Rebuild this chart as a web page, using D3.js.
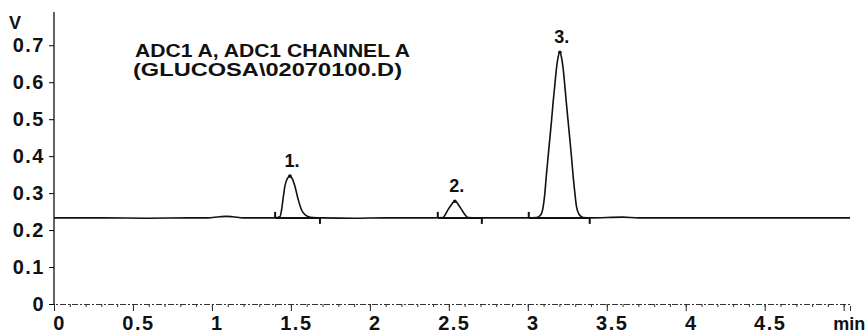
<!doctype html>
<html>

<head>
    <style>
        body {
            margin: 0;
            background: #fff;
        }

        text {
            font-family: "Liberation Sans", Arial, sans-serif;
            fill: #111;
        }

        .axis text {
            font-size: 20px;
            font-weight: bold;
            letter-spacing: 1.5px;
        }

        .trace {
            fill: none;
            stroke: #111;
            stroke-width: 1.6px;
        }

        .integ {
            stroke: #111;
            stroke-width: 2px;
        }
    </style>
    <script src="https://d3js.org/d3.v7.min.js"></script>
</head>

<body>
    <script>
        // chromatogram trace: [time (min), signal (V)]
        const trace = [
            [0, 0.233], [0.3, 0.233], [0.6, 0.232], [0.85, 0.233], [0.97, 0.233],
            [1.05, 0.236], [1.09, 0.237], [1.13, 0.236], [1.2, 0.233], [1.3, 0.233],
            [1.40, 0.233], [1.43, 0.236], [1.441, 0.255], [1.452, 0.29], [1.462, 0.319],
            [1.478, 0.340], [1.494, 0.346], [1.51, 0.338], [1.525, 0.319], [1.546, 0.283],
            [1.567, 0.255], [1.588, 0.242], [1.608, 0.237], [1.64, 0.234], [1.7, 0.233],
            [1.9, 0.232], [2.1, 0.233], [2.3, 0.233], [2.40, 0.233], [2.464, 0.234],
            [2.48, 0.244], [2.496, 0.256], [2.515, 0.268], [2.53, 0.276], [2.538, 0.278],
            [2.548, 0.276], [2.563, 0.267], [2.58, 0.256], [2.60, 0.243], [2.622, 0.234],
            [2.68, 0.233], [2.85, 0.233], [3.0, 0.233], [3.055, 0.234], [3.08, 0.240],
            [3.097, 0.262], [3.108, 0.300], [3.117, 0.346], [3.128, 0.396], [3.139, 0.446],
            [3.15, 0.495], [3.16, 0.545], [3.171, 0.592], [3.181, 0.636], [3.192, 0.668],
            [3.203, 0.681], [3.213, 0.668], [3.224, 0.636], [3.234, 0.592], [3.244, 0.545],
            [3.255, 0.495], [3.266, 0.446], [3.277, 0.396], [3.287, 0.346], [3.298, 0.300],
            [3.308, 0.264], [3.325, 0.242], [3.35, 0.234], [3.4, 0.233], [3.6, 0.235],
            [3.7, 0.233], [4.0, 0.233], [4.5, 0.233], [5.04, 0.233]
        ]

        // peaks: label, apex, integration start / end
        const peakNames = ["1.", "2.", "3."]
        const peakTimes = [1.494, 2.538, 3.203]
        const peakHeights = [0.346, 0.278, 0.681]
        const integStart = [1.40, 2.43, 3.006]
        const integEnd = [1.684, 2.709, 3.392]
        const integBase = 0.233

        const xTicks = [0, 0.5, 1, 1.5, 2, 2.5, 3, 3.5, 4, 4.5, 5]
        const yTicks = [0, 0.1, 0.2, 0.3, 0.4, 0.5, 0.6, 0.7]
        const titleLines = ["ADC1 A, ADC1 CHANNEL A", "(GLUCOSA\\02070100.D)"]

        const width = 867
        const height = 336

        const svg = d3.select("body").append("svg")
            .attr("width", width)
            .attr("height", height)

        const x = d3.scaleLinear().domain([0, 5.04]).range([54, 850])
        const y = d3.scaleLinear().domain([0, 0.79]).range([304, 12])

        // x axis: major ticks plus minor ticks every 0.1
        const xAxis = svg.append("g")
            .attr("class", "axis")
            .attr("transform", `translate(0,${y(0)})`)
            .call(d3.axisBottom(x)
                .tickValues(xTicks)
                .tickSize(7)
                .tickFormat(d => d === 5 ? "min" : d3.format("")(d)))
        xAxis.select(".domain")
            .attr("stroke", "#333")
            .attr("stroke-dasharray", "6,2,2,2")
        xAxis.selectAll(".tick line").attr("stroke", "#222")
        xAxis.selectAll(".tick text")
            .attr("y", 26)
            .attr("dy", 0)
            .attr("dx", 5)
            .filter(d => d === 5)
            .style("font-size", "18px")
            .style("letter-spacing", "0px")

        svg.append("g")
            .attr("transform", `translate(0,${y(0)})`)
            .call(d3.axisBottom(x).ticks(50).tickSize(3).tickFormat(""))
            .call(g => g.select(".domain").remove())
            .selectAll("line").attr("stroke", "#333")

        // y axis
        const yAxis = svg.append("g")
            .attr("class", "axis")
            .attr("transform", `translate(${x(0)},0)`)
            .call(d3.axisLeft(y)
                .tickValues(yTicks)
                .tickSize(5)
                .tickFormat(d => d === 0 ? "0" : d3.format(".1f")(d)))
        yAxis.select(".domain")
            .attr("d", `M0,${y(0)}V${y(0.79)}`)
            .attr("stroke", "#111")
            .attr("stroke-width", 1.3)
        yAxis.selectAll(".tick text").attr("x", -9)

        svg.append("text")
            .attr("x", 15)
            .attr("y", 29)
            .attr("text-anchor", "middle")
            .style("font-size", "18px")
            .style("font-weight", "bold")
            .text("V")

        // title
        svg.selectAll(".title")
            .data(titleLines)
            .enter()
            .append("text")
            .attr("class", "title")
            .attr("x", (d, i) => i === 0 ? 135 : 133)
            .attr("y", (d, i) => i === 0 ? 57 : 76)
            .attr("textLength", (d, i) => i === 0 ? 275 : 269)
            .attr("lengthAdjust", "spacingAndGlyphs")
            .style("font-size", "19px")
            .style("font-weight", "bold")
            .text(d => d)

        // signal trace
        const line = d3.line()
            .x(d => x(d[0]))
            .y(d => y(d[1]))
            .curve(d3.curveMonotoneX)

        svg.append("path")
            .datum(trace)
            .attr("class", "trace")
            .attr("d", line)

        // integration baselines with start / end marks
        const peaks = peakNames.map((name, i) => ({
            name: name,
            t: peakTimes[i],
            v: peakHeights[i],
            start: integStart[i],
            end: integEnd[i]
        }))

        const integ = svg.selectAll(".peak")
            .data(peaks)
            .enter()
            .append("g")
            .attr("class", "peak")

        integ.append("line")
            .attr("class", "integ")
            .attr("x1", d => x(d.start))
            .attr("x2", d => x(d.end))
            .attr("y1", y(integBase))
            .attr("y2", y(integBase))

        integ.append("line")
            .attr("class", "integ")
            .attr("x1", d => x(d.start))
            .attr("x2", d => x(d.start))
            .attr("y1", y(integBase))
            .attr("y2", y(integBase) - 6)

        integ.append("line")
            .attr("class", "integ")
            .attr("x1", d => x(d.end))
            .attr("x2", d => x(d.end))
            .attr("y1", y(integBase))
            .attr("y2", y(integBase) + 6)

        integ.append("circle")
            .attr("cx", d => x(d.t))
            .attr("cy", d => y(d.v))
            .attr("r", 1.8)
            .attr("fill", "#111")

        integ.append("text")
            .attr("x", d => x(d.t) + 2)
            .attr("y", d => y(d.v) - 9)
            .attr("text-anchor", "middle")
            .style("font-size", "18px")
            .style("font-weight", "bold")
            .text(d => d.name)
    </script>
</body>

</html>
